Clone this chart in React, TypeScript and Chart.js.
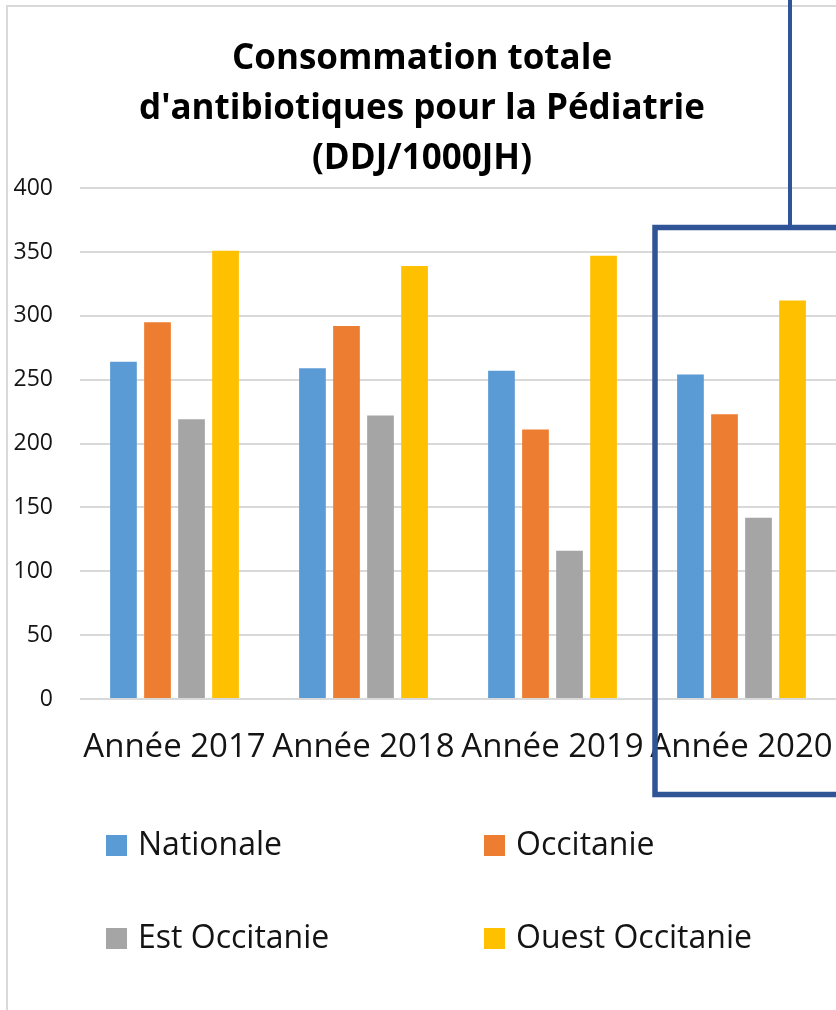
import React, { useEffect, useRef } from 'react';
import { Chart, registerables } from 'chart.js';

Chart.register(...registerables);

const categories = ['Année 2017', 'Année 2018', 'Année 2019', 'Année 2020'];
const seriesNames = ['Nationale', 'Occitanie', 'Est Occitanie', 'Ouest Occitanie'];
const nationale = [264, 259, 257, 254];
const occitanie = [295, 292, 211, 223];
const estOccitanie = [219, 222, 116, 142];
const ouestOccitanie = [351, 339, 347, 312];
const seriesColors = ['#5B9BD5', '#ED7D31', '#A5A5A5', '#FFC000'];
const yMin = 0;
const yMax = 400;
const yStep = 50;
const titleLines = ['Consommation totale', "d'antibiotiques pour la Pédiatrie", '(DDJ/1000JH)'];
const highlightedCategory = 'Année 2020';

const FONT = '"Open Sans", "Noto Sans", sans-serif';
const TEXT = '#141414';

const framePlugin = {
  id: 'frame',
  beforeDraw(chart: any) {
    const { ctx, width, height } = chart;
    ctx.save();
    ctx.fillStyle = '#ffffff';
    ctx.fillRect(0, 0, width, height);
    ctx.fillStyle = '#d9d9d9';
    ctx.fillRect(6, 5, width - 6, 2);
    ctx.fillRect(6, 5, 2, height - 5);
    ctx.restore();
  },
};

const legendPlugin = {
  id: 'gridLegend',
  afterDraw(chart: any) {
    const { ctx } = chart;
    const cols = [106, 484];
    const rows = [845, 938];
    ctx.save();
    ctx.font = `32px ${FONT}`;
    ctx.textBaseline = 'middle';
    ctx.textAlign = 'left';
    chart.data.datasets.forEach((ds: any, i: number) => {
      const x = cols[i % 2];
      const y = rows[Math.floor(i / 2)];
      ctx.fillStyle = ds.backgroundColor;
      ctx.fillRect(x, y - 10, 21, 21);
      ctx.fillStyle = TEXT;
      ctx.fillText(ds.label, x + 32, y + 1);
    });
    ctx.restore();
  },
};

const highlightPlugin = {
  id: 'highlight',
  afterDraw(chart: any) {
    const { ctx } = chart;
    const xs = chart.scales.x;
    const idx = categories.indexOf(highlightedCategory);
    const center = xs.getPixelForValue(idx);
    const half = (xs.width / categories.length) / 2;
    const left = center - half + 8;
    const top = 227.5;
    const bottom = 794.5;
    ctx.save();
    ctx.strokeStyle = '#2F5597';
    ctx.lineWidth = 5.5;
    ctx.beginPath();
    ctx.moveTo(chart.width + 10, top);
    ctx.lineTo(left, top);
    ctx.lineTo(left, bottom);
    ctx.lineTo(chart.width + 10, bottom);
    ctx.stroke();
    ctx.lineWidth = 4;
    ctx.beginPath();
    ctx.moveTo(790, 0);
    ctx.lineTo(790, top);
    ctx.stroke();
    ctx.restore();
  },
};

export default function App() {
  const ref = useRef<HTMLCanvasElement | null>(null);
  useEffect(() => {
    if (!ref.current) return;
    const values = [nationale, occitanie, estOccitanie, ouestOccitanie];
    const chart = new Chart(ref.current, {
      type: 'bar',
      data: {
        labels: categories,
        datasets: seriesNames.map((name, i) => ({
          label: name,
          data: values[i],
          backgroundColor: seriesColors[i],
          borderWidth: 0,
          categoryPercentage: 0.72,
          barPercentage: 0.785,
        })),
      },
      options: {
        responsive: false,
        animation: false,
        layout: { padding: { left: 8, right: 0, top: 0, bottom: 243 } },
        plugins: {
          legend: { display: false },
          tooltip: { enabled: false },
          title: {
            display: true,
            text: titleLines,
            color: '#000000',
            font: { family: FONT, size: 35, weight: 'bold', lineHeight: 1.43 },
            padding: { top: 34, bottom: 4 },
          },
        },
        scales: {
          x: {
            grid: { display: false, drawTicks: false },
            border: { display: false },
            ticks: {
              color: TEXT,
              font: { family: FONT, size: 33 },
              padding: 29,
              maxRotation: 0,
              autoSkip: false,
            },
            afterFit(scale: any) {
              scale.paddingLeft = 0;
              scale.paddingRight = 0;
              scale.height = 68;
            },
          },
          y: {
            min: yMin,
            max: yMax,
            grid: { color: '#d9d9d9', lineWidth: 2, drawTicks: false },
            border: { display: false },
            ticks: {
              stepSize: yStep,
              color: TEXT,
              font: { family: FONT, size: 23 },
              padding: 27,
            },
            afterFit(scale: any) {
              scale.width = 72;
            },
          },
        },
      },
      plugins: [framePlugin, legendPlugin, highlightPlugin],
    } as any);
    return () => chart.destroy();
  }, []);
  return (
    <div style={{ position: 'absolute', left: 0, top: 0, width: 836, height: 1010 }}>
      <canvas ref={ref} width={836} height={1010} />
    </div>
  );
}
